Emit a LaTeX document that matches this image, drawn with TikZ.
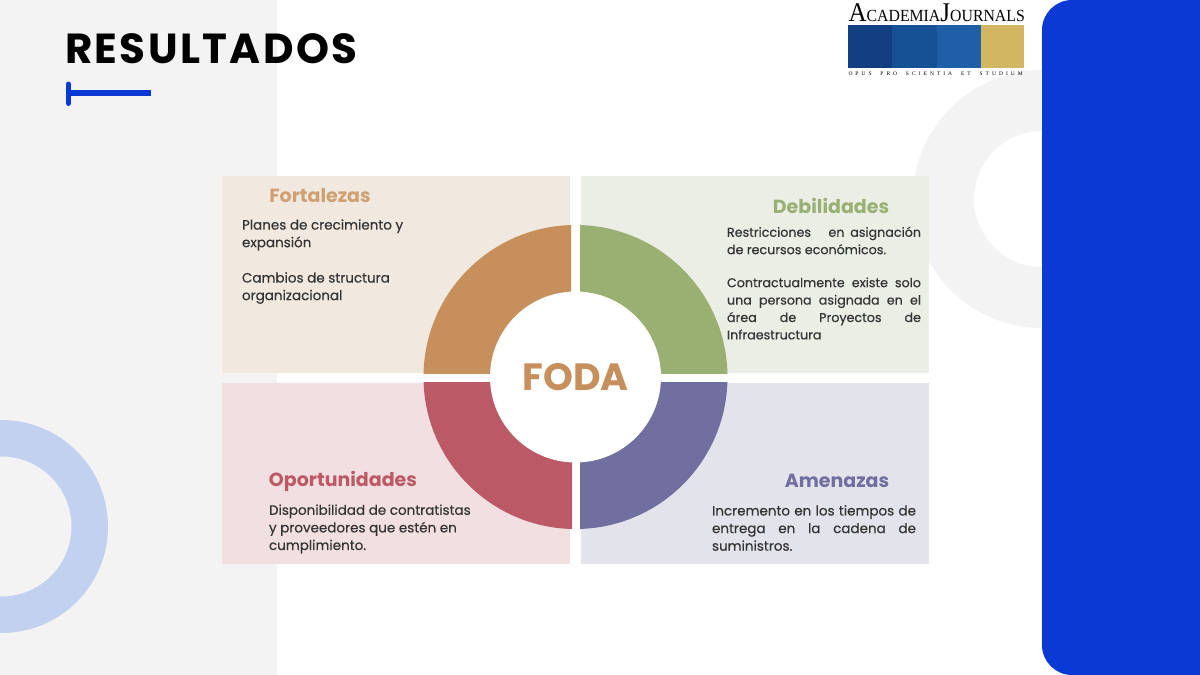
\documentclass[tikz,border=0pt]{standalone}
\usepackage{fontspec}
\setmainfont{Poppins}
\newfontfamily\bodyfont[FakeBold=0.4]{Poppins}
\newfontfamily\titlefont[LetterSpace=5.7]{Poppins}
\newfontfamily\logofont[FakeStretch=0.93]{Liberation Serif}
\newfontfamily\mottofont[LetterSpace=55,WordSpace=2]{Liberation Serif}
\definecolor{panelblue}{HTML}{0A39D4}
\definecolor{sidegrey}{HTML}{F3F3F3}
\definecolor{ringblue}{HTML}{C3D1F0}
\definecolor{fortc}{HTML}{C78F5B}
\definecolor{fortbg}{HTML}{F1E9DF}
\definecolor{debc}{HTML}{9AAF72}
\definecolor{debbg}{HTML}{EBEEE5}
\definecolor{opoc}{HTML}{BC5966}
\definecolor{opobg}{HTML}{F2DFE0}
\definecolor{amec}{HTML}{706F9F}
\definecolor{amebg}{HTML}{E3E3EC}
\definecolor{bodyc}{HTML}{333333}
\definecolor{logoa}{HTML}{123F82}
\definecolor{logob}{HTML}{165095}
\definecolor{logoc}{HTML}{1E5FA8}
\definecolor{logod}{HTML}{D2B662}
\newcommand{\jl}[1]{\makebox[194pt][s]{#1}}
\newcommand{\jr}[1]{\makebox[204pt][s]{#1}}
\tikzset{
  every node/.style={inner sep=0pt,outer sep=0pt},
  head/.style={font=\fontsize{19}{19}\selectfont\bfseries},
  para/.style={anchor=west,align=left,text=bodyc,font=\fontsize{13.5}{17.6}\selectfont\bodyfont},
  paras/.style={para,font=\fontsize{12.7}{17.4}\selectfont\bodyfont},
}
\begin{document}
\begin{tikzpicture}[x=1pt,y=-1pt]
\useasboundingbox (0,0) rectangle (1200,675);
\fill[white] (0,0) rectangle (1200,675);
\fill[sidegrey] (0,0) rectangle (277,675);
\fill[ringblue,even odd rule] (1.5,526.5) circle[radius=106.5pt] (1.5,526.5) circle[radius=70pt];
\fill[sidegrey,even odd rule] (1042,199) circle[radius=129pt] (1042,199) circle[radius=68pt];
\fill[panelblue,rounded corners=30pt] (1042,0) rectangle (1260,675);
% logo
\node[anchor=base west] (logoname) at (848.5,21) {\logofont\fontsize{27}{27}\selectfont A\fontsize{17}{17}\selectfont CADEMIA\fontsize{27}{27}\selectfont J\fontsize{17}{17}\selectfont OURNALS};
\fill[logoa] (848,25) rectangle (892,68);
\fill[logob] (892,25) rectangle (937,68);
\fill[logoc] (937,25) rectangle (981,68);
\fill[logod] (981,25) rectangle (1024,68);
\node[anchor=base west] (logomotto) at (848.5,75) {\mottofont\fontsize{5.5}{5.5}\selectfont OPUS PRO SCIENTIA ET STUDIUM};
% title
\node[anchor=base west,font=\fontsize{42}{42}\selectfont\titlefont\bfseries] (title) at (65,63) {RESULTADOS};
\draw[panelblue,line width=6pt] (68,93) -- (151,93);
\draw[panelblue,line width=5pt,line cap=round] (68.5,84) -- (68.5,103.5);
% quadrants
\fill[fortbg] (222,176) rectangle (570,373);
\fill[debbg] (581,176) rectangle (929,373);
\fill[opobg] (222,383) rectangle (570,564);
\fill[amebg] (581,383) rectangle (929,564);
% ring
\begin{scope}\clip (400,200) rectangle (571,373);
\fill[fortc] (575.5,377) circle[radius=152pt];\end{scope}
\begin{scope}\clip (580,200) rectangle (750,373);
\fill[debc] (575.5,377) circle[radius=152pt];\end{scope}
\begin{scope}\clip (400,382) rectangle (572,550);
\fill[opoc] (575.5,377) circle[radius=152pt];\end{scope}
\begin{scope}\clip (580,382) rectangle (750,550);
\fill[amec] (575.5,377) circle[radius=152pt];\end{scope}
\fill[white] (575.5,377) circle[radius=85.5pt];
\node[text=fortc,font=\fontsize{38}{38}\selectfont\bfseries] (foda) at (575.5,377) {FODA};
% headings
\node[head,text=fortc!85!white] (fort) at (320,196) {Fortalezas};
\node[head,text=debc] (deb) at (831,206) {Debilidades};
\node[head,text=opoc] (opo) at (343,481) {Oportunidades};
\node[head,text=amec] (ame) at (837,481) {Amenazas};
% body
\node[para] (f1) at (242,235) {Planes de crecimiento y\\expansión};
\node[para] (f2) at (242,288) {Cambios de structura\\organizacional};
\node[paras] (d1) at (727,240.5) {\jl{Restricciones\ \ \ en asignación}\\de recursos económicos.};
\node[paras] (d2) at (727,308.5) {\jl{Contractualmente existe solo}\\\jl{una persona asignada en el}\\\jl{área de Proyectos de}\\Infraestructura};
\node[para] (o1) at (269,529) {Disponibilidad de contratistas\\y proveedores que estén en\\cumplimiento.};
\node[para] (a1) at (712,528) {\jr{Incremento en los tiempos de}\\\jr{entrega en la cadena de}\\suministros.};
\end{tikzpicture}
\end{document}
